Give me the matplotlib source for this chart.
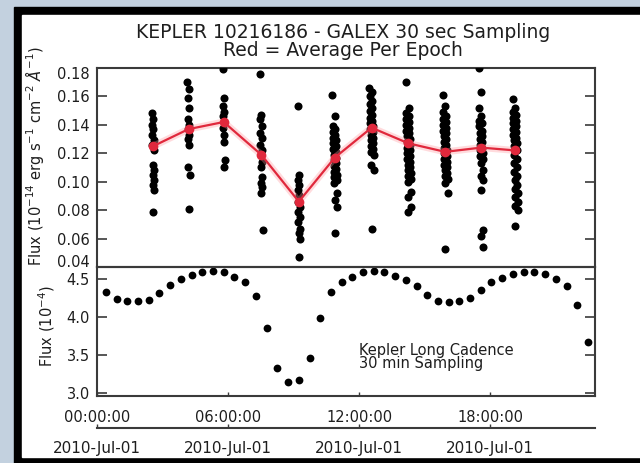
import matplotlib
matplotlib.use('Agg')
import matplotlib.pyplot as plt
import numpy as np
from matplotlib.patches import Rectangle
from matplotlib.transforms import ScaledTranslation

# hours since 2010-Jul-01 00:00:00
galex_epochs = [2.57, 4.19, 5.80, 7.52, 9.24, 10.89, 12.57, 14.26, 15.94, 17.59, 19.15]
galex_mean = [0.125, 0.137, 0.142, 0.119, 0.086, 0.117, 0.138, 0.127, 0.121, 0.124, 0.122]

# GALEX 30 sec points per visit (1e-14 erg/s/cm2/A)
epoch01 = [0.148, 0.144, 0.140, 0.137, 0.133, 0.129, 0.126, 0.122, 0.112, 0.108,
           0.105, 0.101, 0.098, 0.094, 0.079]
epoch02 = [0.170, 0.165, 0.159, 0.152, 0.144, 0.140, 0.137, 0.133, 0.130, 0.126,
           0.110, 0.105, 0.081]
epoch03 = [0.179, 0.159, 0.153, 0.149, 0.146, 0.142, 0.138, 0.133, 0.128, 0.115, 0.110]
epoch04 = [0.176, 0.147, 0.144, 0.139, 0.134, 0.131, 0.126, 0.122, 0.119, 0.114,
           0.110, 0.103, 0.099, 0.096, 0.092, 0.066]
epoch05 = [0.153, 0.105, 0.101, 0.098, 0.094, 0.091, 0.086, 0.082, 0.079, 0.075,
           0.072, 0.067, 0.064, 0.060, 0.047]
epoch06 = [0.161, 0.146, 0.139, 0.137, 0.135, 0.133, 0.131, 0.129, 0.127, 0.125,
           0.123, 0.121, 0.119, 0.117, 0.115, 0.113, 0.111, 0.109, 0.107, 0.105,
           0.103, 0.101, 0.099, 0.092, 0.087, 0.082, 0.064]
epoch07 = [0.166, 0.163, 0.160, 0.157, 0.155, 0.152, 0.150, 0.147, 0.145, 0.143,
           0.141, 0.139, 0.137, 0.135, 0.133, 0.131, 0.129, 0.127, 0.125, 0.123,
           0.121, 0.119, 0.112, 0.108, 0.067]
epoch08 = [0.170, 0.152, 0.148, 0.146, 0.144, 0.142, 0.140, 0.138, 0.136, 0.134,
           0.132, 0.130, 0.128, 0.126, 0.124, 0.122, 0.120, 0.118, 0.116, 0.114,
           0.112, 0.110, 0.108, 0.106, 0.104, 0.102, 0.100, 0.093, 0.089, 0.082, 0.079]
epoch09 = [0.161, 0.153, 0.149, 0.146, 0.144, 0.142, 0.140, 0.138, 0.136, 0.134,
           0.132, 0.130, 0.128, 0.126, 0.124, 0.122, 0.120, 0.118, 0.116, 0.114,
           0.112, 0.110, 0.108, 0.106, 0.104, 0.102, 0.099, 0.092, 0.053]
epoch10 = [0.180, 0.163, 0.152, 0.146, 0.143, 0.141, 0.139, 0.136, 0.134, 0.132,
           0.130, 0.128, 0.126, 0.124, 0.122, 0.120, 0.118, 0.116, 0.113, 0.108,
           0.104, 0.101, 0.094, 0.066, 0.062, 0.054]
epoch11 = [0.158, 0.152, 0.149, 0.147, 0.145, 0.143, 0.141, 0.139, 0.137, 0.135,
           0.133, 0.131, 0.129, 0.127, 0.125, 0.122, 0.119, 0.116, 0.113, 0.110,
           0.107, 0.104, 0.101, 0.098, 0.095, 0.092, 0.089, 0.086, 0.083, 0.080, 0.069]
galex_flux = [epoch01, epoch02, epoch03, epoch04, epoch05, epoch06,
              epoch07, epoch08, epoch09, epoch10, epoch11]

# Kepler long cadence
kepler_time = [0.41, 0.90, 1.39, 1.88, 2.37, 2.86, 3.35, 3.84, 4.33, 4.82,
               5.31, 5.80, 6.29, 6.79, 7.28, 7.77, 8.26, 8.75, 9.24, 9.73,
               10.22, 10.71, 11.20, 11.69, 12.18, 12.67, 13.16, 13.65, 14.14, 14.63,
               15.12, 15.61, 16.10, 16.59, 17.08, 17.57, 18.06, 18.55, 19.04, 19.54,
               20.03, 20.52, 21.01, 21.50, 21.99, 22.48]
kepler_flux = [4.33, 4.24, 4.21, 4.21, 4.23, 4.32, 4.43, 4.50, 4.55, 4.59,
               4.61, 4.59, 4.53, 4.46, 4.28, 3.86, 3.33, 3.15, 3.17, 3.46,
               3.99, 4.33, 4.46, 4.53, 4.60, 4.61, 4.59, 4.54, 4.49, 4.41,
               4.29, 4.21, 4.20, 4.21, 4.25, 4.36, 4.46, 4.51, 4.57, 4.60,
               4.60, 4.57, 4.50, 4.41, 4.16, 3.68]

time_ticks = [0, 6, 12, 18]
time_labels = ['00:00:00', '06:00:00', '12:00:00', '18:00:00']
date_labels = ['2010-Jul-01', '2010-Jul-01', '2010-Jul-01', '2010-Jul-01']
top_yticks = [0.04, 0.06, 0.08, 0.10, 0.12, 0.14, 0.16, 0.18]
bot_yticks = [3.0, 3.5, 4.0, 4.5]

W, H = 640, 463
INK = '#1e1e1e'
AX = '#3a3a3a'

fig = plt.figure(figsize=(W / 100, H / 100), dpi=100, facecolor='#c3d1df')

def box(x0, y0, x1, y1, color):
    # pixel box, y from the top
    fig.add_artist(Rectangle((x0 / W, 1 - y1 / H), (x1 - x0) / W, (y1 - y0) / H,
                             transform=fig.transFigure, color=color, zorder=-5))

box(14, 7, W, H, 'black')
box(22, 15, W, 457, 'white')

def axes_px(x0, y0, x1, y1):
    return fig.add_axes([x0 / W, 1 - y1 / H, (x1 - x0) / W, (y1 - y0) / H])

def nudge(label, dy_px):
    label.set_transform(label.get_transform() +
                        ScaledTranslation(0, dy_px / 100, fig.dpi_scale_trans))

ax1 = axes_px(97, 68, 595, 267)
ax2 = axes_px(97, 267, 595, 396)

for ax in (ax1, ax2):
    ax.set_facecolor('none')
    ax.set_xlim(0, 22.8)
    for s in ax.spines.values():
        s.set_color(AX)
        s.set_linewidth(1.5)
    ax.tick_params(axis='y', direction='in', length=7, width=1.2, color=AX,
                   left=True, right=True, labelsize=10.5, labelcolor=INK, pad=5)

# top: GALEX
for t0, vals in zip(galex_epochs, galex_flux):
    n = len(vals)
    t = t0 + (np.arange(n) - (n - 1) / 2) * 30 / 3600
    ax1.plot(t, vals[::2] + vals[1::2], 'o', color='black', ms=5.8, mew=0, zorder=3)
ax1.plot(galex_epochs, galex_mean, '-', color='#ff9aa0', lw=5, alpha=0.35, zorder=4)
ax1.plot(galex_epochs, galex_mean, '-o', color='#e0283c', lw=1.6, ms=7, mew=0, zorder=5)
ax1.set_ylim(0.04, 0.18)
ax1.set_yticks(top_yticks)
ax1.set_yticklabels(['%.2f' % v for v in top_yticks])
ax1.set_xticks([])

# bottom: Kepler
ax2.plot(kepler_time, kepler_flux, 'o', color='black', ms=5.6, mew=0)
ax2.set_ylim(2.965, 4.66)
ax2.set_yticks(bot_yticks)
ax2.set_yticklabels(['%.1f' % v for v in bot_yticks])
ax2.set_xticks(time_ticks)
ax2.set_xticklabels(time_labels)
ax2.tick_params(axis='x', direction='in', length=3, width=1, color=AX,
                labelsize=10.5, labelcolor=INK, pad=10)
ax2.text(0.5265, 0.19, 'Kepler Long Cadence\n30 min Sampling', transform=ax2.transAxes,
         fontsize=10.5, color=INK, ha='left', va='bottom', linespacing=0.85)

sec = ax2.secondary_xaxis(-32 / 129)
sec.set_xticks(time_ticks)
sec.set_xticklabels(date_labels)
sec.spines['bottom'].set_color(AX)
sec.spines['bottom'].set_linewidth(1.5)
sec.tick_params(axis='x', direction='in', length=3, width=1, color=AX,
                labelsize=11, labelcolor=INK, pad=9)

# end labels sit a little inside the panel, as in the original
lab1 = ax1.get_yticklabels()
nudge(lab1[0], 6)
nudge(lab1[-1], -5)

fig.text(343 / W, 1 - 32 / H, 'KEPLER 10216186 - GALEX 30 sec Sampling',
         ha='center', va='center', fontsize=13.5, color=INK)
fig.text(343 / W, 1 - 50 / H, 'Red = Average Per Epoch',
         ha='center', va='center', fontsize=13.5, color=INK)
fig.text(35 / W, 1 - 156 / H,
         r'Flux (10$^{-14}$ erg s$^{-1}$ cm$^{-2}$ $\AA^{-1}$)',
         rotation=90, ha='center', va='center', fontsize=10.5, color=INK)
fig.text(47 / W, 1 - 326 / H, r'Flux (10$^{-4}$)',
         rotation=90, ha='center', va='center', fontsize=10.5, color=INK)

fig.savefig('out.png', dpi=100, facecolor=fig.get_facecolor())
